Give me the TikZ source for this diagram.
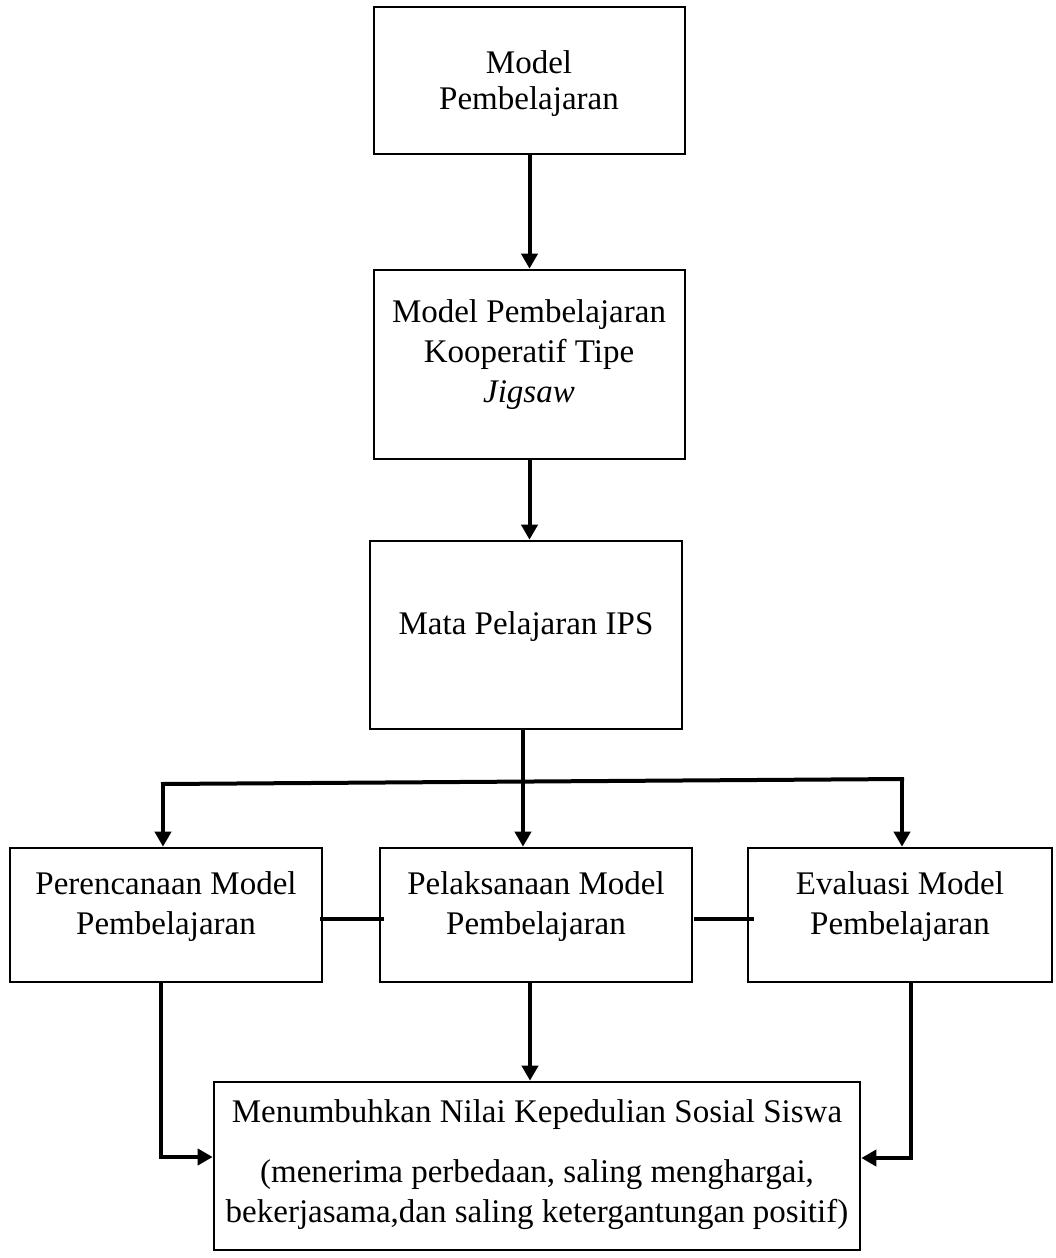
\documentclass[tikz,border=0pt]{standalone}
\usepackage{fontspec}
\setmainfont{Liberation Serif}
\usetikzlibrary{arrows.meta,calc}
\begin{document}
\begin{tikzpicture}[x=1pt,y=-1pt,
  boxnode/.style={draw=black,line width=2.6pt,rectangle,inner sep=0pt,fill=none},
  txt/.style={inner sep=0pt,align=center,font=\fontsize{33}{40}\selectfont},
  arr/.style={line width=4pt,-{Triangle[width=16pt,length=15pt]}},
  ln/.style={line width=4pt}]
\useasboundingbox (0,0) rectangle (1056,1258);
\fill[white] (0,0) rectangle (1056,1258);
% boxes
\node[boxnode,minimum width=311pt,minimum height=147pt] (b1) at (529.5,80.5) {};
\node[boxnode,minimum width=311pt,minimum height=189pt] (b2) at (529.5,364.5) {};
\node[boxnode,minimum width=312pt,minimum height=188pt] (b3) at (526,635) {};
\node[boxnode,minimum width=312pt,minimum height=134pt] (L) at (166,915) {};
\node[boxnode,minimum width=312pt,minimum height=134pt] (M) at (536,915) {};
\node[boxnode,minimum width=304pt,minimum height=134pt] (R) at (900,915) {};
\node[boxnode,minimum width=646pt,minimum height=168pt] (B) at (537,1166) {};
% texts
\node[txt] (t1) at (529,84) {Model\\[-4pt]Pembelajaran};
\node[txt] (t2) at (529,355) {Model Pembelajaran\\Kooperatif Tipe\\\textit{Jigsaw}};
\node[txt] (t3) at (526,627) {Mata Pelajaran IPS};
\node[txt] (tL) at (166,907) {Perencanaan Model\\Pembelajaran};
\node[txt] (tM) at (536,907) {Pelaksanaan Model\\Pembelajaran};
\node[txt] (tR) at (900,907) {Evaluasi Model\\Pembelajaran};
\node[txt] (tB) at (537,1165) {Menumbuhkan Nilai Kepedulian Sosial Siswa\\[20pt](menerima perbedaan, saling menghargai,\\bekerjasama,dan saling ketergantungan positif)};
% connectors
\draw[arr] (b1.south) -- (b1.south |- b2.north);
\draw[arr] (b2.south) -- (b2.south |- b3.north);
\draw[arr] ([xshift=-3pt]b3.south) -- ([xshift=-3pt]b3.south |- M.north);
\coordinate (hl) at (163,784);
\coordinate (hr) at (902,779);
\draw[ln] ([xshift=-2pt]hl) -- ([xshift=2pt]hr);
\draw[arr] (hl) -- (hl |- L.north);
\draw[arr] (hr) -- (hr |- R.north);
\draw[ln] ([shift={(-3pt,-4pt)}]L.east) -- ([shift={(5pt,-4pt)}]M.west);
\draw[ln] ([shift={(1pt,-4pt)}]M.east) -- ([shift={(7pt,-4pt)}]R.west);
\draw[arr] ([xshift=-5pt]L.south) |- ([yshift=9pt]B.west);
\draw[arr] ([xshift=-6pt]M.south) -- ([xshift=-6pt]M.south |- B.north);
\draw[arr] ([xshift=11pt]R.south) |- ([yshift=8pt]B.east);
\end{tikzpicture}
\end{document}
